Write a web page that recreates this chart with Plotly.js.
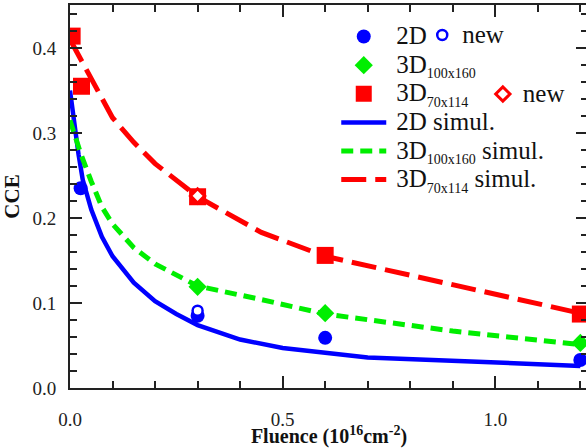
<!DOCTYPE html>
<html>
<head>
<meta charset="utf-8">
<script src="https://cdn.plot.ly/plotly-3.0.1.min.js"></script>
<style>
html,body{margin:0;padding:0;background:#fff;overflow:hidden;}
#chart{width:588px;height:448px;}
</style>
</head>
<body>
<div id="chart"></div>
<script>
// Measured points
const fluence2D = [0.025, 0.3, 0.6, 1.2];
const cce2D = [0.235, 0.085, 0.059, 0.033];
const fluence2DNew = [0.3];
const cce2DNew = [0.091];
const fluence3D100 = [0.3, 0.6, 1.2];
const cce3D100 = [0.119, 0.088, 0.053];
const fluence3D70 = [0.005, 0.027, 0.3, 0.6, 1.2];
const cce3D70 = [0.414, 0.355, 0.225, 0.156, 0.087];
const fluence3D70New = [0.3];
const cce3D70New = [0.226];

// Simulations
const simFluence2D = [0, 0.01, 0.02, 0.03, 0.05, 0.075, 0.1, 0.15, 0.2, 0.25, 0.3, 0.4, 0.5, 0.7, 1.2];
const simCce2D = [0.35, 0.31, 0.275, 0.245, 0.21, 0.178, 0.155, 0.124, 0.102, 0.087, 0.074, 0.057, 0.047, 0.036, 0.026];
const simFluence3D100 = [0, 0.025, 0.05, 0.075, 0.1, 0.15, 0.2, 0.3, 0.45, 0.6, 0.9, 1.2];
const simCce3D100 = [0.315, 0.276, 0.243, 0.213, 0.193, 0.165, 0.146, 0.12, 0.104, 0.087, 0.067, 0.051];
const simFluence3D70 = [0, 0.05, 0.1, 0.15, 0.2, 0.3, 0.45, 0.6, 0.9, 1.2];
const simCce3D70 = [0.41, 0.365, 0.318, 0.289, 0.264, 0.225, 0.183, 0.155, 0.122, 0.088];

// Labels
const label2D = '2D';
const label3D100 = '3D';
const sub3D100 = '100x160';
const label3D70 = '3D';
const sub3D70 = '70x114';
const labelSimul = 'simul.';
const labelNew = 'new';
const xTitle = '<b>Fluence (10<sup>16</sup>cm<sup>-2</sup>)</b>';
const yTitle = '<b>CCE</b>';

// legend text styling helpers
const big = t => '<span style="font-size:25px">\u2009' + t + '</span>';
const bigSub = (t, s, tail) => '<span style="font-size:25px">\u2009' + t +
  '<sub><span style="font-size:14px">' + s + '</span></sub>' + (tail ? ' ' + tail : '') + '</span>';

const BLUE = '#0000ff', GREEN = '#00ee00', RED = '#ff0000';
const serif = 'Liberation Serif';

const traces = [
  {x: simFluence2D, y: simCce2D, mode: 'lines', name: big(label2D + ' ' + labelSimul), legendrank: 4,
   line: {color: BLUE, width: 4.5}},
  {x: simFluence3D100, y: simCce3D100, mode: 'lines', name: bigSub(label3D100, sub3D100, labelSimul), legendrank: 5,
   line: {color: GREEN, width: 5, dash: '12px,7px'}},
  {x: simFluence3D70, y: simCce3D70, mode: 'lines', name: bigSub(label3D70, sub3D70, labelSimul), legendrank: 6,
   line: {color: RED, width: 5, dash: '25px,9px'}},
  {x: fluence2D, y: cce2D, mode: 'markers', name: big(label2D), legendrank: 1,
   marker: {color: BLUE, size: 14, symbol: 'circle'}},
  {x: fluence3D100, y: cce3D100, mode: 'markers', name: bigSub(label3D100, sub3D100), legendrank: 2,
   marker: {color: GREEN, size: 14, symbol: 'diamond'}},
  {x: fluence3D70, y: cce3D70, mode: 'markers', name: bigSub(label3D70, sub3D70), legendrank: 3,
   marker: {color: RED, size: 17, symbol: 'square'}},
  {x: fluence2DNew, y: cce2DNew, mode: 'markers', name: '<span style="font-size:25px">' + labelNew + '</span>', legend: 'legend2',
   marker: {color: '#ffffff', size: 10, symbol: 'circle', line: {color: BLUE, width: 2.5}}},
  {x: fluence3D70New, y: cce3D70New, mode: 'markers', name: '<span style="font-size:25px">' + labelNew + '</span>', legend: 'legend3',
   marker: {color: '#ffffff', size: 11, symbol: 'diamond', line: {color: RED, width: 3}}}
];

const axisCommon = {
  showline: true, linecolor: '#222', linewidth: 2, mirror: 'ticks',
  ticks: 'inside', ticklen: 12, tickwidth: 2, tickcolor: '#222',
  showgrid: false, zeroline: false, tickformat: '.1f',
  tickfont: {family: serif, size: 19, color: '#222'}
};

const legendFont = {family: serif, size: 19.7, color: '#111'};

const layout = {
  width: 588, height: 448,
  margin: {l: 70, r: 0, t: 5, b: 60},
  paper_bgcolor: '#fff', plot_bgcolor: '#fff',
  font: {family: serif, size: 19, color: '#111'},
  showlegend: true,
  xaxis: Object.assign({}, axisCommon, {
    range: [0, 1.218], dtick: 0.5, tick0: 0,
    minor: {ticks: 'inside', dtick: 0.1, ticklen: 7, tickwidth: 2, tickcolor: '#222', showgrid: false},
    ticklabelstandoff: 13,
    title: {text: xTitle, font: {family: serif, size: 20, color: '#111'}, standoff: 16}
  }),
  yaxis: Object.assign({}, axisCommon, {
    range: [0, 0.4506], dtick: 0.1, tick0: 0,
    minor: {ticks: 'inside', dtick: 0.02, ticklen: 7, tickwidth: 2, tickcolor: '#222', showgrid: false},
    ticklabelstandoff: 8,
    title: {text: yTitle, font: {family: serif, size: 21, color: '#111'}, standoff: 10}
  }),
  legend: {x: 0.514, y: 0.968, xanchor: 'left', yanchor: 'top', bgcolor: 'rgba(0,0,0,0)',
    font: legendFont, itemwidth: 45, tracegroupgap: 0},
  legend2: {x: 0.680, y: 0.972, xanchor: 'left', yanchor: 'top', bgcolor: 'rgba(0,0,0,0)',
    font: legendFont},
  legend3: {x: 0.797, y: 0.818, xanchor: 'left', yanchor: 'top', bgcolor: 'rgba(0,0,0,0)',
    font: legendFont}
};

Plotly.newPlot('chart', traces, layout, {displayModeBar: false, staticPlot: true});
</script>
</body>
</html>
